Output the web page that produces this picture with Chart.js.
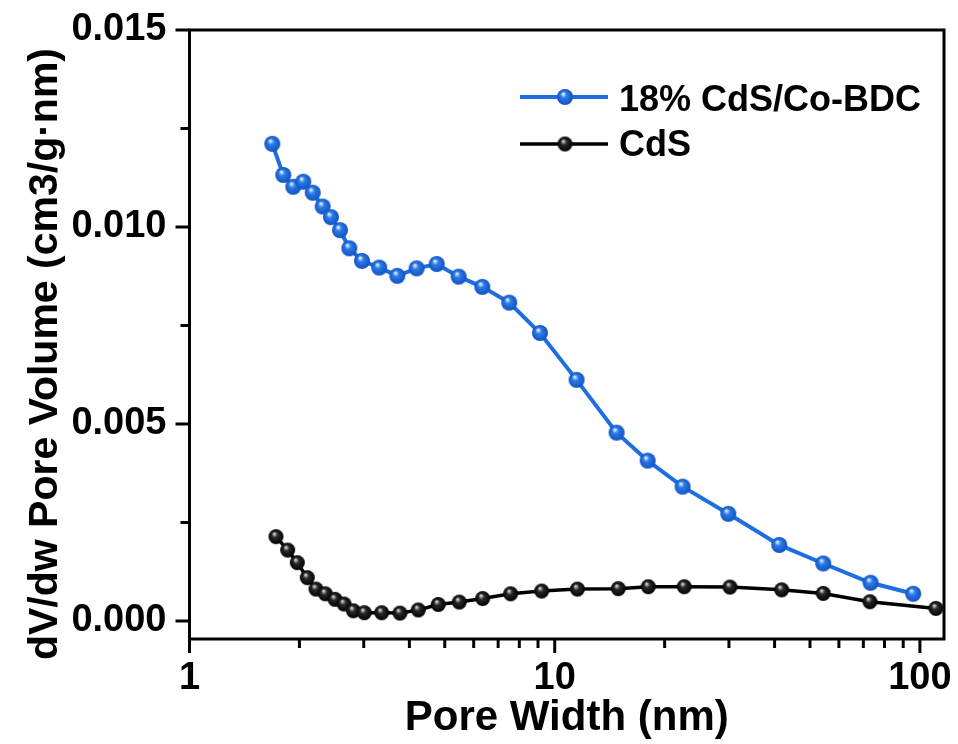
<!DOCTYPE html>
<html><head><meta charset="utf-8">
<script src="https://cdn.jsdelivr.net/npm/chart.js@4/dist/chart.umd.min.js"></script>
<style>html,body{margin:0;padding:0;background:#fff}#wrap{width:958px;height:744px}</style>
</head><body><div id="wrap"><canvas id="c" width="958" height="744"></canvas></div>
<script>
// ---- data ----
const compositeLabel = '18% CdS/Co-BDC';
const cdsLabel = 'CdS';
const compositeWidth = [1.685,1.806,1.924,2.049,2.175,2.315,2.440,2.582,2.738,2.967,3.308,3.707,4.188,4.752,5.458,6.333,7.508,9.112,11.48,14.77,17.97,22.40,29.87,41.19,54.36,73.28,95.87];
const compositeVolume = [0.01211,0.01132,0.01102,0.01115,0.01087,0.01052,0.01025,0.00992,0.00946,0.00914,0.00897,0.00876,0.00895,0.00906,0.00874,0.00848,0.00808,0.00731,0.00612,0.00478,0.00407,0.00341,0.00272,0.00193,0.00146,0.00097,0.00069];
const cdsWidth = [1.725,1.857,1.973,2.101,2.220,2.354,2.502,2.649,2.809,3.010,3.359,3.770,4.231,4.800,5.479,6.350,7.574,9.210,11.54,14.93,18.04,22.63,30.19,41.82,54.36,72.96,110.6];
const cdsVolume = [0.00214,0.00180,0.00148,0.00110,0.00081,0.00069,0.00055,0.00043,0.00026,0.00021,0.00021,0.00020,0.00028,0.00042,0.00048,0.00057,0.00069,0.00076,0.00081,0.00082,0.00087,0.00087,0.00086,0.00079,0.00070,0.00049,0.00032];
const xTickValues = [1,2,3,4,5,6,7,8,9,10,20,30,40,50,60,70,80,90,100];
const xLabelValues = [1,10,100];
const yTickValues = [0,0.0025,0.005,0.0075,0.01,0.0125,0.015];
const yLabelValues = [0,0.005,0.01,0.015];
const xTitle = 'Pore Width (nm)';
const yTitle = 'dV/dw Pore Volume (cm3/g·nm)';

// ---- styling helpers ----
const FONT = '"Liberation Sans", Arial, sans-serif';
const BLUE = '#1e6ee1';
function sphere(r, light, base, dark) {
  const s = Math.ceil(r * 2 + 2);
  const c = document.createElement('canvas');
  c.width = s; c.height = s;
  const g = c.getContext('2d');
  const cx = s / 2, cy = s / 2;
  const grad = g.createRadialGradient(cx - r * 0.25, cy - r * 0.4, r * 0.05, cx, cy, r);
  grad.addColorStop(0, light);
  grad.addColorStop(0.35, base);
  grad.addColorStop(1, dark);
  g.fillStyle = grad;
  g.beginPath(); g.arc(cx, cy, r, 0, Math.PI * 2); g.fill();
  return c;
}
const blueBall = sphere(8, '#eaf4ff', '#2b7be8', '#1152c0');
const blackBall = sphere(7.5, '#e0e0e0', '#2a2a2a', '#000000');

const toPoints = (xs, ys) => xs.map((x, i) => ({x, y: ys[i]}));
const zeroPad = s => { s.paddingTop = 0; s.paddingBottom = 0; s.paddingLeft = 0; s.paddingRight = 0; };

const framePlugin = {
  id: 'frame',
  beforeDatasetsDraw(chart) {
    const {ctx, chartArea: a, scales} = chart;
    ctx.save();
    ctx.strokeStyle = '#000';
    ctx.lineWidth = 3;
    ctx.strokeRect(a.left, a.top, a.right - a.left, a.bottom - a.top);
    ctx.lineCap = 'butt';
    scales.x.ticks.forEach(t => {
      const px = scales.x.getPixelForValue(t.value);
      const len = xLabelValues.includes(t.value) ? 14 : 9;
      ctx.beginPath(); ctx.moveTo(px, a.bottom); ctx.lineTo(px, a.bottom + len); ctx.stroke();
    });
    scales.y.ticks.forEach(t => {
      const py = scales.y.getPixelForValue(t.value);
      const len = yLabelValues.some(v => Math.abs(v - t.value) < 1e-9) ? 14 : 9;
      ctx.beginPath(); ctx.moveTo(a.left, py); ctx.lineTo(a.left - len, py); ctx.stroke();
    });
    ctx.restore();
  },
  afterDraw(chart) {
    const {ctx} = chart;
    ctx.save();
    // y title
    ctx.translate(57, 354);
    ctx.rotate(-Math.PI / 2);
    ctx.font = 'bold 41px ' + FONT;
    ctx.fillStyle = '#000';
    ctx.textAlign = 'center';
    ctx.textBaseline = 'alphabetic';
    ctx.fillText(yTitle, 0, 0);
    ctx.restore();
    // legend
    const items = chart.data.datasets.map((d, i) => ({label: d.label, color: d.borderColor, ball: d.pointStyle, width: d.borderWidth, y: i === 0 ? 97 : 144, base: i === 0 ? 111 : 156}));
    ctx.save();
    items.forEach(it => {
      ctx.strokeStyle = it.color; ctx.lineWidth = it.width;
      ctx.beginPath(); ctx.moveTo(520, it.y); ctx.lineTo(608, it.y); ctx.stroke();
      ctx.drawImage(it.ball, 565 - it.ball.width / 2, it.y - it.ball.height / 2);
      ctx.font = 'bold 36px ' + FONT;
      ctx.fillStyle = '#000';
      ctx.textAlign = 'left';
      ctx.textBaseline = 'alphabetic';
      ctx.fillText(it.label, 619, it.base);
    });
    ctx.restore();
  }
};

new Chart(document.getElementById('c'), {
  type: 'line',
  data: {
    datasets: [
      {label: compositeLabel, data: toPoints(compositeWidth, compositeVolume), borderColor: BLUE, borderWidth: 4,
       pointStyle: blueBall, pointRadius: 8, clip: false, tension: 0},
      {label: cdsLabel, data: toPoints(cdsWidth, cdsVolume), borderColor: '#000', borderWidth: 3.5,
       pointStyle: blackBall, pointRadius: 7.5, clip: false, tension: 0}
    ]
  },
  options: {
    responsive: false,
    animation: false,
    events: [],
    layout: {padding: {left: 0, top: 30, right: 14, bottom: 0}},
    plugins: {legend: {display: false}, tooltip: {enabled: false}},
    scales: {
      x: {
        type: 'logarithmic', min: 1, max: 116.4,
        afterBuildTicks: s => { s.ticks = xTickValues.map(v => ({value: v, major: xLabelValues.includes(v)})); },
        afterFit: s => { s.height = 105; zeroPad(s); },
        grid: {display: false, drawTicks: false},
        border: {display: false},
        ticks: {autoSkip: false, maxRotation: 0, padding: 17, color: '#000',
          font: {family: FONT, size: 38, weight: 'bold'},
          callback: v => xLabelValues.includes(v) ? String(v) : ''},
        title: {display: true, text: xTitle, color: '#000', font: {family: FONT, size: 42, weight: 'bold'}, padding: {top: 0, bottom: 0}}
      },
      y: {
        type: 'linear', min: -0.000457, max: 0.015,
        afterBuildTicks: s => { s.ticks = yTickValues.map(v => ({value: v})); },
        afterFit: s => { s.width = 189.5; zeroPad(s); },
        grid: {display: false, drawTicks: false},
        border: {display: false},
        ticks: {autoSkip: false, padding: 23, color: '#000',
          font: {family: FONT, size: 38, weight: 'bold'},
          callback: v => yLabelValues.some(l => Math.abs(l - v) < 1e-9) ? v.toFixed(3) : ''}
      }
    }
  },
  plugins: [framePlugin]
});
</script>
</body></html>
